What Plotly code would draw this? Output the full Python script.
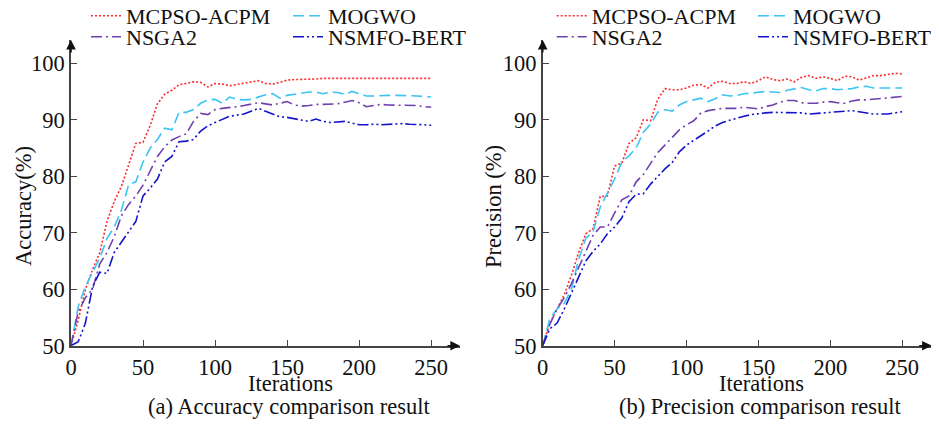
import plotly.graph_objects as go

iterations = list(range(0, 251, 5))

acc_mcpso = [50, 54.5, 60, 63.5, 66.5, 72, 75.5, 78.2, 82, 85.8, 86, 89, 92.8, 94.5, 95.2, 96.2,
             96.4, 96.7, 96.6, 95.8, 96.4, 96.3, 96.0, 96.2, 96.5, 96.6, 96.9, 96.4, 96.3, 96.6,
             97.0, 97.1, 97.1, 97.2, 97.2, 97.3, 97.3, 97.3, 97.3, 97.3, 97.3, 97.3, 97.3, 97.3,
             97.3, 97.3, 97.3, 97.3, 97.3, 97.3, 97.3]
acc_mogwo = [50, 56.9, 60.5, 63, 65.5, 69, 71, 74, 78.5, 79, 82.5, 85, 86.5, 88.5, 88.2, 91.3,
             91.3, 91.8, 92.9, 93.5, 93.6, 92.9, 94.0, 93.6, 93.5, 93.6, 94.0, 94.4, 94.6, 93.8,
             94.3, 94.5, 94.8, 94.9, 94.9, 94.6, 94.9, 94.8, 94.5, 95.0, 94.6, 94.2, 94.2, 94.3,
             94.3, 94.3, 94.3, 94.3, 94.2, 94.1, 94.0]
acc_nsga2 = [50, 56, 58.5, 60, 64.5, 66.5, 69.3, 73, 75, 76.5, 78.4, 81, 83.5, 85.2, 86.4, 87,
             87.5, 89.7, 91.1, 90.9, 91.8, 92.0, 92.1, 92.3, 92.5, 92.7, 93.0, 92.8, 92.6, 92.9,
             93.2, 92.6, 92.4, 92.5, 92.7, 92.7, 92.8, 92.8, 93.1, 93.4, 93.0, 92.3, 92.5, 92.7,
             92.6, 92.6, 92.6, 92.6, 92.5, 92.3, 92.2]
acc_nsmfo = [50, 50.7, 54, 60.5, 63, 62.8, 66.5, 68.3, 70, 72, 76.5, 77.9, 79.5, 82.5, 83.5, 86.1,
             86.2, 86.5, 88, 88.9, 89.5, 90.0, 90.6, 90.8, 91.0, 91.5, 92.0, 91.5, 91.0, 90.5,
             90.4, 90.2, 89.9, 89.7, 90.1, 89.7, 89.5, 89.6, 89.7, 89.4, 89.1, 89.1, 89.2, 89.1,
             89.2, 89.3, 89.3, 89.2, 89.2, 89.1, 89.0]

pre_mcpso = [50, 54, 56.5, 59, 62.5, 66.5, 69.8, 70.7, 76.4, 76.5, 81.8, 82.3, 85.8, 86.8, 90, 89.8,
             93.6, 95.5, 95.3, 95.3, 95.6, 96.1, 96.2, 95.6, 96.6, 96.8, 96.4, 96.4, 96.7, 96.4,
             96.9, 97.6, 97.1, 96.9, 97.2, 96.7, 97.5, 97.8, 97.3, 97.6, 97.3, 96.9, 97.7, 97.6,
             97.0, 97.4, 97.8, 97.8, 98.0, 98.2, 98.1]
pre_mogwo = [50, 54.8, 56.5, 57.5, 60, 65.3, 69, 70.2, 74.5, 77, 79.5, 82.5, 83.6, 85, 87.8, 89.2,
             91.3, 91.8, 91.5, 92.6, 93.2, 93.5, 93.8, 93.2, 93.7, 94.4, 94.2, 94.3, 94.6, 94.7,
             94.8, 95.0, 94.9, 94.8, 95.2, 95.4, 95.7, 95.3, 95.1, 95.5, 95.5, 95.3, 95.4, 95.5,
             95.8, 95.9, 95.6, 95.6, 95.6, 95.6, 95.6]
pre_nsga2 = [50, 53.8, 56.5, 58.5, 61, 63.8, 66.5, 69.5, 71, 71, 73.5, 75.8, 76.5, 79, 80.3, 82.2,
             84.2, 85.5, 86.9, 88.2, 89.1, 89.8, 91.2, 91.6, 91.8, 92.0, 92.0, 92.0, 92.2, 92.0,
             91.9, 92.3, 92.6, 93.1, 93.4, 93.4, 93.0, 92.9, 92.9, 93.1, 93.2, 93.0, 92.9, 93.3,
             93.5, 93.5, 93.6, 93.7, 93.8, 94.0, 94.1]
pre_nsmfo = [50, 53, 54, 56.5, 59.3, 62.3, 65, 66.7, 68, 69.8, 71, 72.6, 75.5, 76.8, 76.9, 78.6,
             80, 81.3, 82.4, 84.3, 85.5, 86.3, 87.1, 88.0, 88.9, 89.5, 89.9, 90.3, 90.6, 90.9,
             91.1, 91.2, 91.3, 91.3, 91.3, 91.3, 91.2, 91.0, 91.1, 91.2, 91.2, 91.3, 91.4, 91.6,
             91.4, 91.2, 91.0, 91.0, 91.0, 91.2, 91.4]

names = ["MCPSO-ACPM", "MOGWO", "NSGA2", "NSMFO-BERT"]
colors = ["#FF2A2A", "#3CC4F4", "#7040B0", "#1414CC"]
dashes = ["2px,2px", "11px,5px", "11px,4px,2px,4px", "11px,3px,2px,3px,2px,3px"]

xt = [0, 50, 100, 150, 200, 250]
yt = [50, 60, 70, 80, 90, 100]

FONT = "Liberation Serif, Times New Roman, serif"
FS = 22.5
LFS = 22
# page body adds an 8px margin; the figure is sized so the whole page is 939x424
OFF = 8
W, H = 939 - OFF, 424 - OFF


def px(x):
    return (x - OFF) / W


def py(y):
    return 1 - (y - OFF) / H


fig = go.Figure()

left_series = [acc_mcpso, acc_mogwo, acc_nsga2, acc_nsmfo]
right_series = [pre_mcpso, pre_mogwo, pre_nsga2, pre_nsmfo]
# one legend per entry: (text start x, text centre y) in page pixels
left_leg_pos = [(126, 16), (328, 16), (126, 37), (328, 37)]
right_leg_pos = [(591.7, 16), (793, 16), (591.7, 37), (793, 37)]

leg_common = dict(orientation="h", xanchor="left", yanchor="middle", bgcolor="rgba(0,0,0,0)",
                  font=dict(family=FONT, size=LFS, color="#111"), tracegroupgap=0, itemwidth=30,
                  visible=True)
legends = {}
n = 0
for series, pos, xa, ya in [(left_series, left_leg_pos, "x", "y"),
                            (right_series, right_leg_pos, "x2", "y2")]:
    for i in range(4):
        n += 1
        lid = "legend" if n == 1 else "legend%d" % n
        legends[lid] = dict(x=px(pos[i][0] - 40), y=py(pos[i][1]), **leg_common)
        fig.add_trace(go.Scatter(x=iterations, y=series[i], mode="lines", name=names[i],
                                 line=dict(color=colors[i], width=1.6, dash=dashes[i]),
                                 xaxis=xa, yaxis=ya, legend=lid, showlegend=True))
fig.update_layout(showlegend=True, **legends)

ydom = [py(345.7), py(40)]
axis_common = dict(showline=True, linecolor="#444", linewidth=1.6, ticks="inside", ticklen=6,
                   tickcolor="#444", tickwidth=1.3, showgrid=False, zeroline=False,
                   automargin=False, tickfont=dict(family=FONT, size=FS, color="#111"))

fig.update_layout(
    xaxis=dict(domain=[px(71), px(460)], range=[0, 270], tickvals=xt, anchor="y", **axis_common),
    yaxis=dict(domain=ydom, range=[50, 104.1], tickvals=yt, anchor="x", **axis_common),
    xaxis2=dict(domain=[px(542.7), px(931.7)], range=[0, 270.5], tickvals=xt, anchor="y2", **axis_common),
    yaxis2=dict(domain=ydom, range=[50, 104.1], tickvals=yt, anchor="x2", **axis_common),
)

ann = []
tfont = dict(family=FONT, size=FS, color="#111")


def label(text, x, y, angle=0):
    return dict(text=text, x=px(x), y=py(y), xref="paper", yref="paper",
                xanchor="center", yanchor="middle", textangle=angle, showarrow=False, font=tfont)


ann.append(label("Accuracy(%)", 23, 206, -90))
ann.append(label("Precision (%)", 493, 206, -90))
ann.append(label("Iterations", 290, 383))
ann.append(label("Iterations", 761, 383))
ann.append(label("(a) Accuracy comparison result", 289.5, 406))
ann.append(label("(b) Precision comparison result", 760.8, 406))
# axis arrowheads
for xr, yr, xmax in [("x", "y", 270), ("x2", "y2", 270.5)]:
    ann.append(dict(x=xmax, y=50, xref=xr, yref=yr, ax=-14, ay=0, showarrow=True, arrowhead=2,
                    arrowsize=1.2, arrowwidth=1.6, arrowcolor="#111", text=""))
    ann.append(dict(x=0, y=104.1, xref=xr, yref=yr, ax=0, ay=14, showarrow=True, arrowhead=2,
                    arrowsize=1.2, arrowwidth=1.6, arrowcolor="#111", text=""))

fig.update_layout(width=W, height=H, margin=dict(l=0, r=0, t=0, b=0, pad=0, autoexpand=False),
                  paper_bgcolor="white", plot_bgcolor="white", annotations=ann,
                  font=dict(family=FONT, size=FS, color="#111"))

fig.write_html("out.html")
